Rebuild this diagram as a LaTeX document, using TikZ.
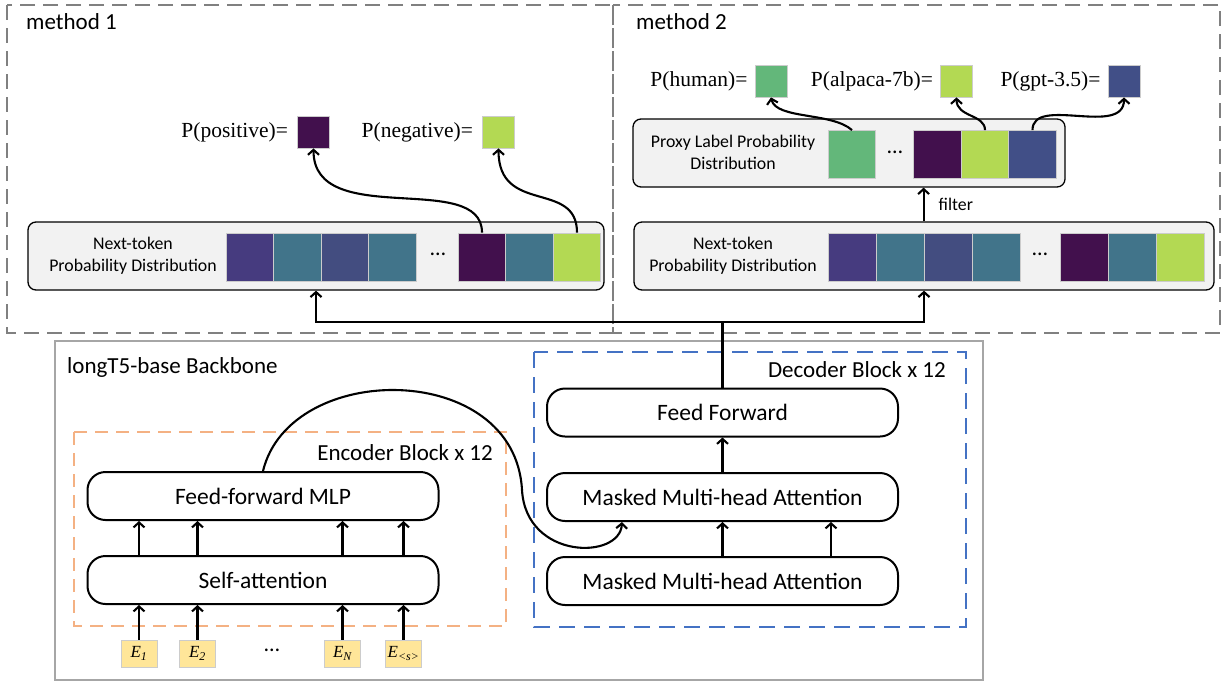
\documentclass[tikz,border=0pt]{standalone}
\usepackage{fontspec}
\setmainfont{Carlito}
\newfontfamily\tnr{Liberation Serif}
\usepackage{tikz}
\usetikzlibrary{arrows.meta,positioning}

\definecolor{cA}{HTML}{463B7F}
\definecolor{cT}{HTML}{41748A}
\definecolor{cB}{HTML}{434D80}
\definecolor{cD}{HTML}{42104D}
\definecolor{cL}{HTML}{B3D953}
\definecolor{cG}{HTML}{63B77A}
\definecolor{cN}{HTML}{414F87}
\definecolor{framegray}{HTML}{808080}
\definecolor{bbgray}{HTML}{A6A6A6}
\definecolor{encorange}{HTML}{F4B183}
\definecolor{decblue}{HTML}{4472C4}
\definecolor{embfill}{HTML}{FFE699}
\definecolor{distfill}{HTML}{F2F2F2}

\begin{document}
\begin{tikzpicture}[x=1pt, y=-1pt, >={Straight Barb[length=5pt,width=11pt]},
    blk/.style={draw, line width=2, rounded corners=18, fill=white,
      minimum width=351, minimum height=48, inner sep=0,
      font=\fontsize{23.5}{27}\selectfont},
    dist/.style={draw, line width=1.3, rounded corners=8, fill=distfill,
      minimum height=68, inner sep=0},
    cell/.style={draw=black!20, line width=0.8, minimum width=47.5,
      minimum height=48, inner sep=0},
    sq/.style={draw=black!20, line width=0.8, minimum size=32, inner sep=0},
    plabel/.style={inner sep=0, font=\tnr\fontsize{21.5}{24}\selectfont},
    small/.style={inner sep=0, align=center, font=\fontsize{17.8}{22}\selectfont},
    dots/.style={inner sep=0, font=\fontsize{22}{24}\selectfont},
    title/.style={inner sep=0, anchor=west, font=\fontsize{23}{27}\selectfont},
    emb/.style={draw=black!20, line width=0.8, fill=embfill, minimum width=36,
      minimum height=27, inner sep=0, font=\tnr\itshape\fontsize{17}{19}\selectfont},
    gframe/.style={draw=framegray, line width=2.2, dash pattern=on 15pt off 8pt},
    conn/.style={line width=2.1}]
  \useasboundingbox (0,0) rectangle (1228,686);

  % outer frames
  \draw[gframe] (7,5) rectangle (613,333);
  \draw[gframe] (613,5) rectangle (1220,333);
  \draw[draw=bbgray, line width=2.5] (55,341) rectangle (983,680);
  \draw[draw=encorange, line width=2, dash pattern=on 13pt off 8pt] (74,432) rectangle (506,626);
  \draw[draw=decblue, line width=2, dash pattern=on 16pt off 9pt] (534,352) rectangle (966,627);

  \node[title] (m1title) at (26,22) {method 1};
  \node[title] (m2title) at (636,22) {method 2};
  \node[title] (bbtitle) at (67,367) {longT5-base Backbone};
  \node[title, anchor=east] (enctitle) at (493,453) {Encoder Block x 12};
  \node[title, anchor=east] (dectitle) at (946,370) {Decoder Block x 12};

  % encoder
  \node[blk] (mlp) at (263,496) {Feed-forward MLP};
  \node[blk] (sa) at (263,580) {Self-attention};
  \node[emb] (e1) at (139,653.5) {E\textsubscript{1}};
  \node[emb] (e2) at (197.5,653.5) {E\textsubscript{2}};
  \node[dots] (edots) at (272,650) {\dots};
  \node[emb] (eN) at (342.5,653.5) {E\textsubscript{N}};
  \node[emb] (es) at (403.5,653.5) {E\textsubscript{<s>}};
  \foreach \e in {e1,e2,eN,es} {
    \draw[conn,->] (\e.north) -- (\e |- sa.south);
    \draw[conn,->] (\e |- sa.north) -- (\e |- mlp.south);
  }

  % decoder
  \node[blk] (ff) at (722.5,412.5) {Feed Forward};
  \node[blk] (dm2) at (722.5,497) {Masked Multi-head Attention};
  \node[blk] (dm1) at (722.5,581) {Masked Multi-head Attention};
  \draw[conn,->] (dm1.north) -- (dm2.south);
  \draw[conn,->] ([xshift=108.5]dm1.north) -- ([xshift=108.5]dm2.south);
  \draw[conn,->] (dm2.north) -- (ff.south);
  \draw[conn,->] (mlp.north) .. controls (290,360) and (515,360) .. (522,490)
    .. controls (526,560) and (620,560) .. ([xshift=-100.5]dm2.south);

  % method 1
  \node[dist, minimum width=576] (n1) at (316,256) {};
  \node[small] (n1lbl) at (133,256) {Next-token\\Probability Distribution};
  \foreach \c [count=\i] in {cA,cT,cB,cT}
    \node[cell, fill=\c] (m1c\i) at (202.5+47.5*\i,257) {};
  \node[dots] (m1dots) at (438,254) {\dots};
  \foreach \c [count=\i from 5] in {cD,cT,cL}
    \node[cell, fill=\c] (m1c\i) at (482+47.5*\i-237.5,257) {};
  \node[sq, fill=cD] (pos) at (313.5,132) {};
  \node[sq, fill=cL] (neg) at (498.5,132) {};
  \node[plabel, left=9pt of pos] (poslbl) {P(positive)=};
  \node[plabel, left=9pt of neg] (neglbl) {P(negative)=};
  \draw[conn,->] (m1c5.north) .. controls +(0,-63) and +(0,82) .. (pos.south);
  \draw[conn,->] (m1c7.north) .. controls +(0,-53) and +(0,67) .. (neg.south);

  % method 2
  \node[dist, minimum width=580] (n2) at (924,256) {};
  \node[small] (n2lbl) at (733,256) {Next-token\\Probability Distribution};
  \foreach \c [count=\i] in {cA,cT,cB,cT}
    \node[cell, minimum width=48, fill=\c] (n2c\i) at (804+48*\i,257) {};
  \node[dots] (n2dots) at (1040,254) {\dots};
  \foreach \c [count=\i from 5] in {cD,cT,cL}
    \node[cell, minimum width=48, fill=\c] (n2c\i) at (1084.5+48*\i-240,257) {};

  \node[dist, minimum width=432] (px) at (849,153) {};
  \node[small] (pxlbl) at (733,152) {Proxy Label Probability\\Distribution};
  \node[cell, fill=cG] (p1) at (852,154.5) {};
  \node[dots] (pxdots) at (895,152) {\dots};
  \node[cell, fill=cD] (p2) at (937.5,154.5) {};
  \node[cell, fill=cL] (p3) at (985,154.5) {};
  \node[cell, fill=cN] (p4) at (1032.5,154.5) {};

  \node[sq, fill=cG] (human) at (771,81) {};
  \node[sq, fill=cL] (alpaca) at (956.5,81) {};
  \node[sq, fill=cN] (gpt) at (1124,81) {};
  \node[plabel, left=7pt of human] (humanlbl) {P(human)=};
  \node[plabel, left=7pt of alpaca] (alpacalbl) {P(alpaca-7b)=};
  \node[plabel, left=7pt of gpt] (gptlbl) {P(gpt-3.5)=};
  \draw[conn,->] (p1.north) .. controls +(-20,-18) and +(5,22) .. (human.south);
  \draw[conn,->] (p3.north) .. controls +(0,-16) and +(0,20) .. (alpaca.south);
  \draw[conn,->] (p4.north) .. controls +(0,-35) and +(0,40) .. (gpt.south);
  \draw[conn,->] (n2c3.west |- n2.north) -- (n2c3.west |- px.south)
    node[small, midway, right=14pt] {filter};

  % backbone output
  \coordinate (split) at (722.5,322);
  \draw[conn] (ff.north) -- (split);
  \draw[conn,->] (split) -| (n1.south);
  \draw[conn,->] (split) -| (n2.south);
\end{tikzpicture}
\end{document}
